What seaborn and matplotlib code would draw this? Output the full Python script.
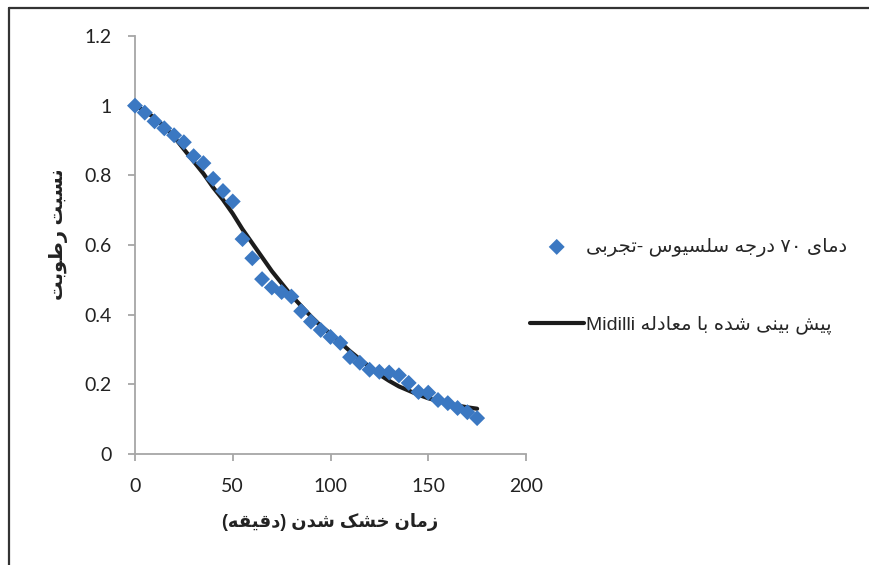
import matplotlib
matplotlib.use('Agg')
import matplotlib.pyplot as plt
from matplotlib.lines import Line2D
import numpy as np
import pandas as pd
import seaborn as sns

# drying time (min) and moisture ratio
time_min = [0, 5, 10, 15, 20, 25, 30, 35, 40, 45, 50, 55, 60, 65, 70, 75, 80, 85,
            90, 95, 100, 105, 110, 115, 120, 125, 130, 135, 140, 145, 150, 155,
            160, 165, 170, 175]
mr_exp = [1.0, 0.98, 0.955, 0.935, 0.915, 0.895, 0.855, 0.835, 0.79, 0.755, 0.725,
          0.617, 0.562, 0.502, 0.478, 0.465, 0.452, 0.41, 0.38, 0.356, 0.336, 0.319,
          0.278, 0.262, 0.242, 0.236, 0.234, 0.226, 0.204, 0.178, 0.176, 0.155,
          0.146, 0.132, 0.12, 0.103]
mr_midilli = [1.0, 0.985, 0.965, 0.94, 0.91, 0.875, 0.84, 0.805, 0.765, 0.73, 0.69,
              0.645, 0.605, 0.565, 0.525, 0.49, 0.455, 0.425, 0.395, 0.368, 0.345,
              0.32, 0.295, 0.272, 0.25, 0.228, 0.21, 0.194, 0.182, 0.17, 0.16,
              0.152, 0.145, 0.139, 0.134, 0.13]

x_ticks = [0, 50, 100, 150, 200]
y_ticks = [0, 0.2, 0.4, 0.6, 0.8, 1.0, 1.2]
y_tick_labels = ['0', '0.2', '0.4', '0.6', '0.8', '1', '1.2']

label_exp = 'دمای ۷۰ درجه سلسیوس -تجربی'
label_fit = 'پیش بینی شده با معادله Midilli'
x_label = 'زمان خشک شدن (دقیقه)'
y_label = 'نسبت رطوبت'

# matplotlib has no arabic shaping, so pick presentation forms by hand
FORMS = {
    'ا': ('\uFE8D', '\uFE8E', None, None),
    'ب': ('\uFE8F', '\uFE90', '\uFE91', '\uFE92'),
    'پ': ('\uFB56', '\uFB57', '\uFB58', '\uFB59'),
    'ت': ('\uFE95', '\uFE96', '\uFE97', '\uFE98'),
    'ج': ('\uFE9D', '\uFE9E', '\uFE9F', '\uFEA0'),
    'خ': ('\uFEA5', '\uFEA6', '\uFEA7', '\uFEA8'),
    'د': ('\uFEA9', '\uFEAA', None, None),
    'ر': ('\uFEAD', '\uFEAE', None, None),
    'ز': ('\uFEAF', '\uFEB0', None, None),
    'س': ('\uFEB1', '\uFEB2', '\uFEB3', '\uFEB4'),
    'ش': ('\uFEB5', '\uFEB6', '\uFEB7', '\uFEB8'),
    'ط': ('\uFEC1', '\uFEC2', '\uFEC3', '\uFEC4'),
    'ع': ('\uFEC9', '\uFECA', '\uFECB', '\uFECC'),
    'ق': ('\uFED5', '\uFED6', '\uFED7', '\uFED8'),
    'ک': ('\uFB8E', '\uFB8F', '\uFB90', '\uFB91'),
    'ل': ('\uFEDD', '\uFEDE', '\uFEDF', '\uFEE0'),
    'م': ('\uFEE1', '\uFEE2', '\uFEE3', '\uFEE4'),
    'ن': ('\uFEE5', '\uFEE6', '\uFEE7', '\uFEE8'),
    'ه': ('\uFEE9', '\uFEEA', '\uFEEB', '\uFEEC'),
    'و': ('\uFEED', '\uFEEE', None, None),
    'ی': ('\uFBFC', '\uFBFD', '\uFBFE', '\uFBFF'),
}
MIRROR = str.maketrans('()', ')(')


def shape(text):
    out = []
    for i, ch in enumerate(text):
        if ch not in FORMS:
            out.append(ch)
            continue
        prev = text[i - 1] if i > 0 else ''
        nxt = text[i + 1] if i + 1 < len(text) else ''
        join_prev = prev in FORMS and FORMS[prev][2] is not None
        join_next = nxt in FORMS and FORMS[ch][2] is not None
        iso, fin, ini, med = FORMS[ch]
        if join_prev and join_next:
            out.append(med)
        elif join_prev:
            out.append(fin)
        elif join_next:
            out.append(ini)
        else:
            out.append(iso)
    return ''.join(out)


def is_ltr(ch):
    return (ch.isascii() and ch.isalnum()) or ('\u06F0' <= ch <= '\u06F9')


def rtl(text):
    s = shape(text)
    runs = []
    for ch in s:
        ltr = is_ltr(ch)
        if runs and runs[-1][0] == ltr:
            runs[-1][1] += ch
        else:
            runs.append([ltr, ch])
    return ''.join(r if ltr else r[::-1].translate(MIRROR) for ltr, r in reversed(runs))


sns.set_theme(style='white')
plt.rcParams['font.family'] = ['Liberation Sans', 'DejaVu Sans']

df_exp = pd.DataFrame({'t': time_min, 'mr': mr_exp})
df_fit = pd.DataFrame({'t': time_min, 'mr': mr_midilli})

fig = plt.figure(figsize=(8.69, 5.65), dpi=100)
ax = fig.add_axes([135 / 869, 1 - 454 / 565, (526 - 135) / 869, (454 - 36) / 565])

sns.lineplot(data=df_fit, x='t', y='mr', ax=ax, color='#1c1c1c', linewidth=3.0,
             label=rtl(label_fit), zorder=2)
sns.scatterplot(data=df_exp, x='t', y='mr', ax=ax, marker='D', s=66, color='#3b78c2',
                edgecolor='none', linewidth=0, label=rtl(label_exp), zorder=3,
                clip_on=False)

ax.set_xlim(0, 200)
ax.set_ylim(0, 1.2)
ax.set_xticks(x_ticks)
ax.set_yticks(y_ticks)
ax.set_yticklabels(y_tick_labels)
for lab in ax.get_xticklabels() + ax.get_yticklabels():
    lab.set_fontfamily(['Lato', 'DejaVu Sans'])
    lab.set_fontsize(14)
    lab.set_color('#222222')

sns.despine(ax=ax)
for side in ['left', 'bottom']:
    ax.spines[side].set_color('#a6a6a6')
    ax.spines[side].set_linewidth(1.3)
ax.tick_params(axis='both', which='major', direction='out', length=5, width=1.3,
               color='#a6a6a6', pad=12, bottom=True, left=True)

ax.set_xlabel(rtl(x_label), fontsize=13, fontweight='bold', color='#222222')
ax.set_ylabel(rtl(y_label), fontsize=14, fontweight='bold', color='#222222')
ax.xaxis.set_label_coords(0.5, -0.14)
ax.yaxis.set_label_coords(-0.172, 0.525)

handles, labels = ax.get_legend_handles_labels()
order = [labels.index(rtl(label_exp)), labels.index(rtl(label_fit))]
ax.get_legend().remove()
fig.legend([handles[i] for i in order], [labels[i] for i in order],
           loc='center left', bbox_to_anchor=(512 / 869, 1 - 286 / 565),
           frameon=False, fontsize=14, handlelength=2.8, handletextpad=0.1,
           labelspacing=3.0, markerscale=1.0)

# outer frame (only top and left edges show in the reference)
fig.add_artist(Line2D([8.5 / 869, 8.5 / 869], [0, 1 - 7.5 / 565], color='#333333',
                      linewidth=1.6, transform=fig.transFigure))
fig.add_artist(Line2D([8.5 / 869, 1], [1 - 7.5 / 565, 1 - 7.5 / 565], color='#333333',
                      linewidth=1.6, transform=fig.transFigure))

fig.savefig('out.png', dpi=100)
